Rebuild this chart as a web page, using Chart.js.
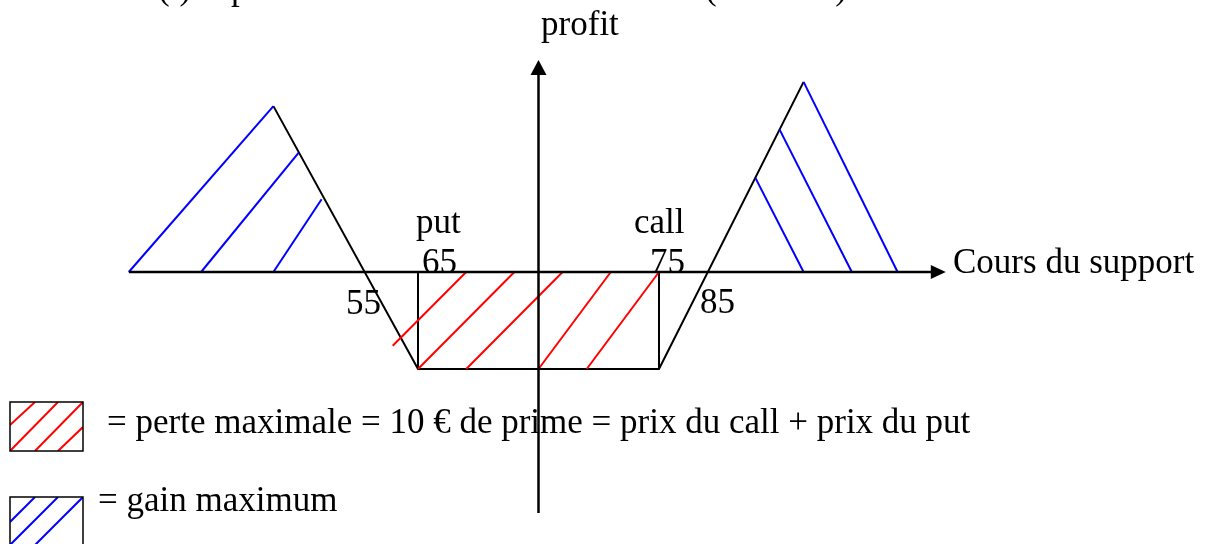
<!DOCTYPE html>
<html>
<head>
<meta charset="utf-8">
<script src="https://cdn.jsdelivr.net/npm/chart.js@4.4.1/dist/chart.umd.min.js"></script>
<style>
  html, body { margin: 0; padding: 0; background: #fff; }
  #wrap { width: 1209px; height: 544px; position: relative; }
</style>
</head>
<body>
<div id="wrap"><canvas id="stellage"></canvas></div>
<script>
// profil du stellage : cours du support (x) / profit (y)
const payoffX = [59, 65, 75, 81]
const payoffY = [17.1, -10, -10, 19.6]

// bords bleus des zones de gain
const gainEdgeX = [[53, 59], [81, 84.9]]
const gainEdgeY = [[0, 17.1], [19.6, 0]]

// hachures : [x1, y1, x2, y2]
const gainHatch = [
    [56, 0, 60.05, 12.3],
    [59, 0, 61, 7.5],
    [80, 14.7, 83, 0],
    [79, 9.7, 81, 0]
]
const lossHatch = [
    [63.95, -7.6, 67, 0],
    [65, -10, 69, 0],
    [67, -10, 71, 0],
    [70, -10, 73, 0],
    [72, -10, 75, 0]
]

const strikes = [65, 75]
const maxLoss = -10

// axes
const priceAxisX = [53, 86.9]
const profitAxisY = [-24.85, 21.86]
const profitAxisAt = 70

// textes posés sur le schéma [texte, x, y, alignement]
const diagramLabels = [
    ['profit', 71.72, 24.4, 'center'],
    ['put', 64.92, 4.0, 'left'],
    ['65', 65.17, -0.1, 'left'],
    ['55', 62.01, -4.33, 'left'],
    ['call', 73.96, 4.0, 'left'],
    ['75', 74.63, -0.1, 'left'],
    ['85', 76.7, -4.23, 'left'],
    ['Cours du support', 87.2, -0.1, 'left']
]

const FONT = '35px "Liberation Serif"'

function seg(x1, y1, x2, y2, color, width) {
    return {
        data: [{x: x1, y: y1}, {x: x2, y: y2}],
        showLine: true,
        borderColor: color,
        borderWidth: width,
        pointRadius: 0,
        fill: false
    }
}

let datasets = []
// axes
datasets.push(seg(priceAxisX[0], 0, priceAxisX[1] - 0.5, 0, '#000', 2.5))
datasets.push(seg(profitAxisAt, profitAxisY[0], profitAxisAt, profitAxisY[1] - 1, '#000', 2.5))
// hachures
lossHatch.forEach(h => datasets.push(seg(h[0], h[1], h[2], h[3], '#ff0000', 2)))
gainHatch.forEach(h => datasets.push(seg(h[0], h[1], h[2], h[3], '#0000ff', 2)))
gainEdgeX.forEach((xs, i) => datasets.push(seg(xs[0], gainEdgeY[i][0], xs[1], gainEdgeY[i][1], '#0000ff', 2)))
// verticales des prix d'exercice
strikes.forEach(k => datasets.push(seg(k, 0, k, maxLoss, '#000', 2)))
// profil
datasets.push({
    data: payoffX.map((x, i) => ({x: x, y: payoffY[i]})),
    showLine: true,
    borderColor: '#000',
    borderWidth: 2,
    pointRadius: 0,
    fill: false
})

const arrows = {
    id: 'arrows',
    afterDatasetsDraw(chart) {
        const ctx = chart.ctx
        const xs = chart.scales.x, ys = chart.scales.y
        ctx.save()
        ctx.fillStyle = '#000'
        // flèche horizontale
        let tx = xs.getPixelForValue(priceAxisX[1]), ty = ys.getPixelForValue(0)
        ctx.beginPath()
        ctx.moveTo(tx, ty)
        ctx.lineTo(tx - 15, ty - 7)
        ctx.lineTo(tx - 15, ty + 7)
        ctx.closePath()
        ctx.fill()
        // flèche verticale
        tx = xs.getPixelForValue(profitAxisAt); ty = ys.getPixelForValue(profitAxisY[1])
        ctx.beginPath()
        ctx.moveTo(tx, ty)
        ctx.lineTo(tx - 8, ty + 15)
        ctx.lineTo(tx + 8, ty + 15)
        ctx.closePath()
        ctx.fill()
        ctx.restore()
    }
}

const texts = {
    id: 'texts',
    afterDraw(chart) {
        const ctx = chart.ctx
        const xs = chart.scales.x, ys = chart.scales.y
        ctx.save()
        ctx.font = FONT
        ctx.fillStyle = '#000'
        ctx.textBaseline = 'alphabetic'
        diagramLabels.forEach(l => {
            ctx.textAlign = l[3]
            ctx.fillText(l[0], xs.getPixelForValue(l[1]), ys.getPixelForValue(l[2]))
        })
        // titre coupé en haut
        ctx.textAlign = 'left'
        ctx.fillText('(i)', 158, -1)
        ctx.fillText('profil à l\u2019échéance', 231, -1)
        ctx.fillText('(acheteur)', 705, -1)

        // légende
        function swatch(top, color, lines) {
            ctx.save()
            ctx.beginPath()
            ctx.rect(10, top, 73, 49)
            ctx.clip()
            ctx.strokeStyle = color
            ctx.lineWidth = 2
            lines.forEach(s => {
                ctx.beginPath()
                ctx.moveTo(s[0], top + s[1])
                ctx.lineTo(s[2], top + s[3])
                ctx.stroke()
            })
            ctx.restore()
            ctx.strokeStyle = '#000'
            ctx.lineWidth = 1.5
            ctx.strokeRect(10, top, 73, 49)
        }
        swatch(402, '#ff0000', [[10, 23, 35, 0], [10, 49, 58, 0], [35, 49, 83, 0], [58, 49, 83, 25]])
        swatch(497, '#0000ff', [[10, 25, 35, 0], [10, 48, 58, 0], [35, 48, 83, 0]])
        ctx.fillStyle = '#000'
        ctx.fillText('= perte maximale = 10 \u20ac de prime = prix du call + prix du put', 107, 433)
        ctx.fillText('= gain maximum', 98, 511)
        ctx.restore()
    }
}

new Chart(document.getElementById('stellage'), {
    type: 'scatter',
    data: { datasets: datasets },
    options: {
        responsive: true,
        maintainAspectRatio: false,
        animation: false,
        layout: { padding: 0 },
        plugins: { legend: { display: false }, tooltip: { enabled: false } },
        scales: {
            x: { type: 'linear', display: false, min: 47.655, max: 97.822 },
            y: { type: 'linear', display: false, min: -28.04, max: 28.04 }
        }
    },
    plugins: [arrows, texts]
})
</script>
</body>
</html>
